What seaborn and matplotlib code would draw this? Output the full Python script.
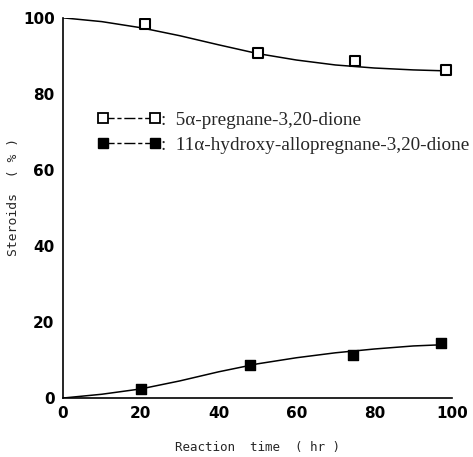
import matplotlib
matplotlib.use("Agg")
import matplotlib.pyplot as plt
import seaborn as sns
import pandas as pd
from matplotlib.lines import Line2D

sns.set_theme(style="white")
plt.rcParams['font.family'] = ['DejaVu Sans']

# measured points
open_x = [21, 50, 75, 98.5]
open_y = [98.3, 90.8, 88.6, 86.2]
filled_x = [20, 48, 74.5, 97]
filled_y = [2.4, 8.7, 11.4, 14.4]

# fitted curves
curve_open_x = [0, 10, 20, 30, 40, 50, 60, 70, 80, 90, 100]
curve_open_y = [100, 99.0, 97.4, 95.3, 92.9, 90.6, 88.9, 87.6, 86.8, 86.3, 86.0]
curve_filled_x = [0, 10, 20, 30, 40, 50, 60, 70, 80, 90, 97]
curve_filled_y = [0, 1.0, 2.4, 4.5, 6.9, 9.0, 10.6, 11.9, 12.9, 13.7, 14.0]

labels = [":  5\u03b1-pregnane-3,20-dione", ":  11\u03b1-hydroxy-allopregnane-3,20-dione"]
x_ticks = [0, 20, 40, 60, 80, 100]
y_ticks = [0, 20, 40, 60, 80, 100]

fig = plt.figure(figsize=(4.73, 4.57), dpi=100)
ax = fig.add_axes([0.133, 0.129, 0.823, 0.832])

sns.lineplot(x=curve_open_x, y=curve_open_y, ax=ax, color="black", lw=1.1, sort=False)
sns.lineplot(x=curve_filled_x, y=curve_filled_y, ax=ax, color="black", lw=1.1, sort=False)
sns.scatterplot(x=open_x, y=open_y, ax=ax, marker="s", s=45, facecolor="white",
                edgecolor="black", linewidth=1.5, zorder=5)
sns.scatterplot(x=filled_x, y=filled_y, ax=ax, marker="s", s=45, color="black",
                edgecolor="black", linewidth=1.0, zorder=5)

ax.set_xlim(0, 100)
ax.set_ylim(0, 100)
ax.set_xticks(x_ticks)
ax.set_yticks(y_ticks)
ax.set_xticklabels([str(t) for t in x_ticks], fontweight="bold", fontsize=11)
ax.set_yticklabels([str(t) for t in y_ticks], fontweight="bold", fontsize=11)
ax.tick_params(axis="x", direction="in", length=5, width=1, pad=6, colors="black")
ax.tick_params(axis="y", direction="out", length=4, width=1, pad=2, colors="black")
for s in ["top", "right"]:
    ax.spines[s].set_visible(False)
for s in ["left", "bottom"]:
    ax.spines[s].set_color("black")
    ax.spines[s].set_linewidth(1.2)

ax.set_xlabel("Reaction  time  ( hr )", fontfamily="DejaVu Sans Mono", fontsize=9)
ax.set_ylabel("Steroids  ( % )", fontfamily="DejaVu Sans Mono", fontsize=9.4)
ax.xaxis.set_label_coords(0.5, -0.113)
ax.yaxis.set_label_coords(-0.11, 0.53)

handles = [
    Line2D([0], [0], color="black", lw=1, linestyle=(0, (8, 2, 3, 2)), marker="s",
           markersize=7.5, markerfacecolor="white", markeredgecolor="black", markeredgewidth=1.3),
    Line2D([0], [0], color="black", lw=1, linestyle=(0, (8, 2, 3, 2)), marker="s",
           markersize=7.5, markerfacecolor="black", markeredgecolor="black"),
]
leg = ax.legend(handles, labels, loc="upper left", bbox_to_anchor=(0.045, 0.80),
                frameon=False, numpoints=2, handlelength=3.3, handletextpad=0.0,
                labelspacing=0.4, prop={"family": "Liberation Serif", "size": 13.8})

fig.savefig("out.png", dpi=100)
